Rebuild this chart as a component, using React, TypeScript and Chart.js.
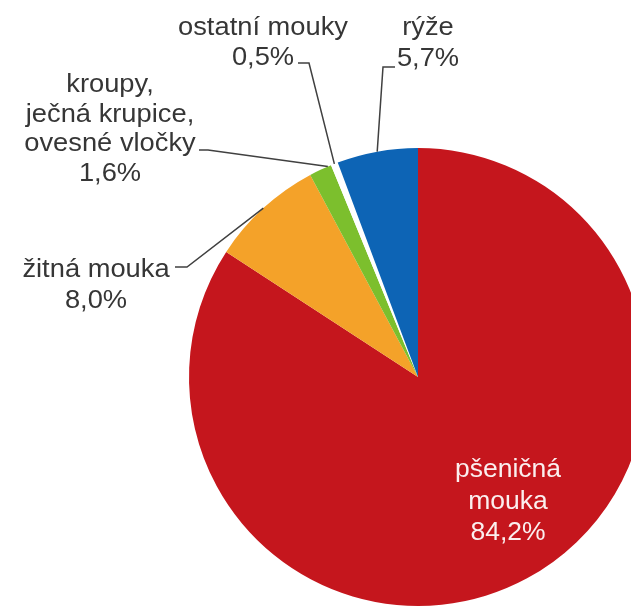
import React, { useEffect, useRef } from 'react';
import { Chart, registerables } from 'chart.js';

Chart.register(...registerables);

// ---- data ----
const categories = [
  'pšeničná mouka',
  'žitná mouka',
  'kroupy, ječná krupice, ovesné vločky',
  'ostatní mouky',
  'rýže',
];
const shares = [84.2, 8.0, 1.6, 0.5, 5.7];
const labelLines = [
  ['pšeničná', 'mouka'],
  ['žitná mouka'],
  ['kroupy,', 'ječná krupice,', 'ovesné vločky'],
  ['ostatní mouky'],
  ['rýže'],
];

// ---- styles / layout ----
const sliceColors = ['#C5161D', '#F4A229', '#7CBF2D', '#FFFFFF', '#0D64B5'];
const CANVAS_W = 836;
const CANVAS_H = 754;
const PIE_RADIUS = 229;
const FONT = '26px "Liberation Sans", Arial, sans-serif';

type LabelLayout = {
  cx: number;
  y: number;
  lh: number;
  inside?: boolean;
  elbow?: number[][];
  frac?: number;
};
const labelLayout: LabelLayout[] = [
  { cx: 508, y: 477, lh: 31.5, inside: true },
  { cx: 96, y: 277, lh: 30.5, elbow: [[175, 267], [187, 267]], frac: 0.5 },
  { cx: 110, y: 92, lh: 29.6, elbow: [[199, 150], [208, 150]], frac: 0.85 },
  { cx: 263, y: 35, lh: 30, elbow: [[298, 63], [309, 63]], frac: 0.5 },
  { cx: 428, y: 35, lh: 31, elbow: [[395, 67], [383, 67]], frac: 0.5 },
];

const fmt = (v: number) => v.toFixed(1).replace('.', ',') + '%';

const calloutPlugin = {
  id: 'callouts',
  afterDatasetsDraw(chart: any) {
    const ctx: CanvasRenderingContext2D = chart.ctx;
    const meta = chart.getDatasetMeta(0);
    meta.data.forEach((arc: any, i: number) => {
      const lay = labelLayout[i];
      const p = arc.getProps(['x', 'y', 'startAngle', 'endAngle', 'outerRadius'], true);
      const lines = [...labelLines[i], fmt(shares[i])];
      ctx.save();
      ctx.font = FONT;
      ctx.textAlign = 'center';
      ctx.textBaseline = 'alphabetic';
      ctx.fillStyle = lay.inside ? '#FBEFEF' : '#363636';
      const sx = lay.inside ? 1.02 : 1.05;
      lines.forEach((t, k) => {
        ctx.save();
        ctx.translate(lay.cx, lay.y + k * lay.lh);
        ctx.scale(sx, 1);
        ctx.fillText(t, 0, 0);
        ctx.restore();
      });
      if (!lay.inside && lay.elbow) {
        const a = p.startAngle + (lay.frac ?? 0.5) * (p.endAngle - p.startAngle);
        const ax = p.x + Math.cos(a) * p.outerRadius;
        const ay = p.y + Math.sin(a) * p.outerRadius;
        ctx.strokeStyle = '#404040';
        ctx.lineWidth = 1.5;
        ctx.beginPath();
        ctx.moveTo(lay.elbow[0][0], lay.elbow[0][1]);
        ctx.lineTo(lay.elbow[1][0], lay.elbow[1][1]);
        ctx.lineTo(ax, ay);
        ctx.stroke();
      }
      ctx.restore();
    });
  },
};

export default function App() {
  const ref = useRef<HTMLCanvasElement | null>(null);
  useEffect(() => {
    if (!ref.current) return;
    const chart = new Chart(ref.current, {
      type: 'pie',
      data: {
        labels: categories,
        datasets: [
          {
            data: shares,
            backgroundColor: sliceColors,
            borderWidth: 0,
            radius: PIE_RADIUS,
          } as any,
        ],
      },
      options: {
        responsive: false,
        animation: false,
        devicePixelRatio: 1,
        layout: { padding: 0 },
        plugins: {
          legend: { display: false },
          tooltip: { enabled: false },
        },
        events: [],
      },
      plugins: [calloutPlugin],
    });
    return () => chart.destroy();
  }, []);
  return (
    <div
      style={{
        position: 'absolute',
        left: 0,
        top: 0,
        width: 631,
        height: 606,
        overflow: 'hidden',
        background: '#fff',
      }}
    >
      <canvas ref={ref} width={CANVAS_W} height={CANVAS_H} style={{ display: 'block' }} />
    </div>
  );
}
